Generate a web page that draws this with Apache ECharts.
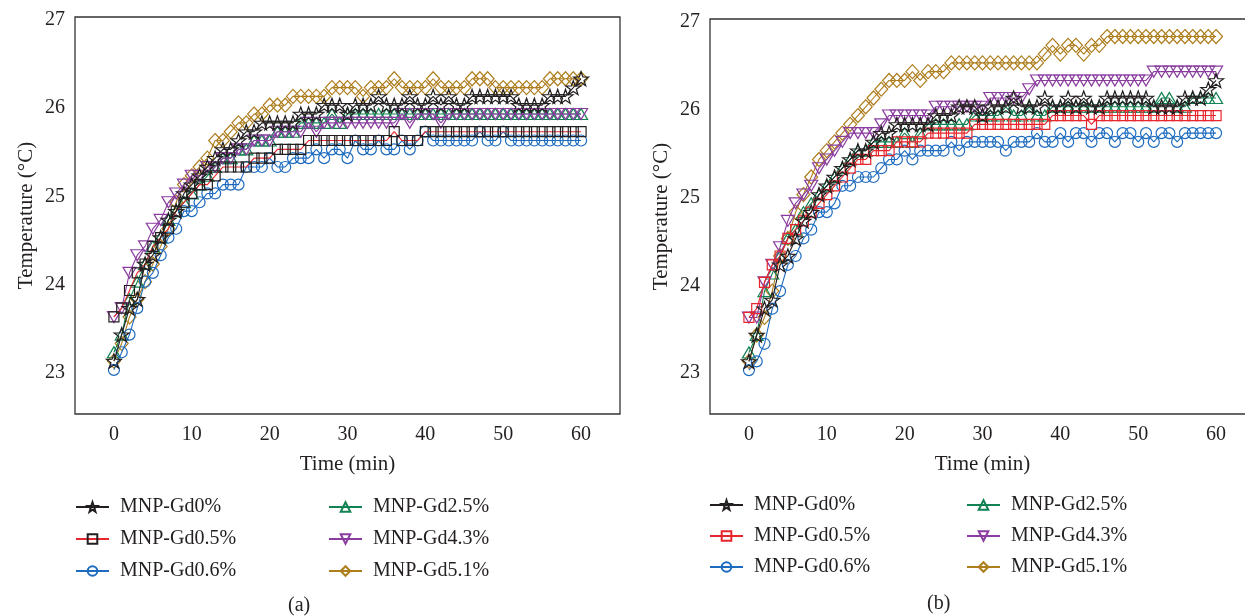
<!DOCTYPE html>
<html>
<head>
<meta charset="utf-8">
<script src="https://cdn.jsdelivr.net/npm/echarts@6/dist/echarts.min.js"></script>
<style>
html,body{margin:0;padding:0;background:#fff;}
#c{width:1245px;height:616px;}
</style>
</head>
<body>
<div id="c"></div>
<script>
// ---------- data ----------
const time = Array.from({length: 61}, (_, i) => i); // minutes 0..60

const seriesNames = ['MNP-Gd0%', 'MNP-Gd0.5%', 'MNP-Gd0.6%', 'MNP-Gd2.5%', 'MNP-Gd4.3%', 'MNP-Gd5.1%'];
const xTickLabels = [0, 10, 20, 30, 40, 50, 60];
const yTickLabels = [23, 24, 25, 26, 27];

// (a)
const a_gd0 = [23.1,23.4,23.7,23.8,24.2,24.3,24.5,24.7,24.8,25.0,25.1,25.2,25.3,25.4,25.5,25.5,25.6,25.7,25.7,25.8,25.8,25.8,25.8,25.8,25.9,25.9,25.9,26.0,26.0,26.0,25.9,26.0,26.0,26.0,26.1,26.0,26.0,26.0,26.1,26.0,26.0,26.1,26.0,26.1,26.0,26.0,26.1,26.1,26.1,26.1,26.1,26.1,26.0,26.0,26.0,26.0,26.1,26.1,26.1,26.2,26.3];
const a_gd05 = [23.6,23.7,23.9,24.1,24.2,24.4,24.5,24.6,24.8,24.9,25.0,25.1,25.1,25.2,25.3,25.3,25.3,25.3,25.4,25.4,25.4,25.5,25.5,25.5,25.5,25.6,25.6,25.6,25.6,25.6,25.6,25.6,25.6,25.6,25.6,25.6,25.7,25.6,25.6,25.6,25.7,25.7,25.7,25.7,25.7,25.7,25.7,25.7,25.7,25.7,25.7,25.7,25.7,25.7,25.7,25.7,25.7,25.7,25.7,25.7,25.7];
const a_gd06 = [23.0,23.2,23.4,23.7,24.0,24.1,24.3,24.5,24.6,24.8,24.8,24.9,25.0,25.0,25.1,25.1,25.1,25.3,25.3,25.3,25.4,25.3,25.3,25.4,25.4,25.4,25.5,25.4,25.5,25.5,25.4,25.6,25.5,25.5,25.6,25.5,25.5,25.6,25.5,25.6,25.7,25.6,25.6,25.6,25.6,25.6,25.6,25.7,25.6,25.6,25.7,25.6,25.6,25.6,25.6,25.6,25.6,25.6,25.6,25.6,25.6];
const a_gd25 = [23.2,23.4,23.8,24.0,24.2,24.4,24.5,24.7,24.8,24.9,25.0,25.1,25.2,25.3,25.4,25.4,25.5,25.5,25.6,25.6,25.6,25.7,25.7,25.7,25.8,25.8,25.8,25.8,25.9,25.8,25.9,25.9,25.9,25.9,25.9,25.9,25.9,25.9,25.9,25.9,25.9,25.9,25.9,25.9,25.9,25.9,25.9,25.9,25.9,25.9,25.9,25.9,25.9,25.9,25.9,25.9,25.9,25.9,25.9,25.9,25.9];
const a_gd43 = [23.6,23.7,24.1,24.3,24.4,24.6,24.7,24.9,25.0,25.1,25.2,25.2,25.3,25.3,25.4,25.4,25.5,25.5,25.6,25.6,25.6,25.7,25.7,25.7,25.7,25.8,25.7,25.8,25.8,25.8,25.8,25.8,25.8,25.8,25.8,25.8,25.8,25.9,25.8,25.9,25.9,25.9,25.8,25.9,25.9,25.9,25.9,25.9,25.9,25.9,25.9,25.9,25.9,25.9,25.9,25.9,25.9,25.9,25.9,25.9,25.9];
const a_gd51 = [23.1,23.3,23.6,23.8,24.0,24.2,24.4,24.6,24.9,25.1,25.2,25.3,25.4,25.6,25.6,25.7,25.8,25.8,25.9,25.9,26.0,26.0,26.0,26.1,26.1,26.1,26.1,26.1,26.2,26.2,26.2,26.2,26.1,26.2,26.2,26.2,26.3,26.2,26.2,26.2,26.2,26.3,26.2,26.2,26.2,26.2,26.3,26.3,26.3,26.2,26.2,26.2,26.2,26.2,26.2,26.2,26.3,26.3,26.3,26.3,26.3];

// (b)
const b_gd0 = [23.1,23.4,23.7,23.8,24.2,24.3,24.5,24.7,24.8,25.0,25.1,25.2,25.3,25.4,25.5,25.5,25.6,25.7,25.7,25.8,25.8,25.8,25.8,25.8,25.9,25.9,25.9,26.0,26.0,26.0,25.9,26.0,26.0,26.0,26.1,26.0,26.0,26.0,26.1,26.0,26.0,26.1,26.0,26.1,26.0,26.0,26.1,26.1,26.1,26.1,26.1,26.1,26.0,26.0,26.0,26.0,26.1,26.1,26.1,26.2,26.3];
const b_gd05 = [23.6,23.7,24.0,24.2,24.3,24.5,24.6,24.7,24.8,24.9,25.0,25.1,25.2,25.3,25.4,25.4,25.5,25.5,25.5,25.6,25.6,25.6,25.6,25.7,25.7,25.7,25.7,25.7,25.7,25.8,25.8,25.8,25.8,25.8,25.8,25.8,25.8,25.8,25.8,25.9,25.9,25.9,25.9,25.9,25.8,25.9,25.9,25.9,25.9,25.9,25.9,25.9,25.9,25.9,25.9,25.9,25.9,25.9,25.9,25.9,25.9];
const b_gd06 = [23.0,23.1,23.3,23.7,23.9,24.2,24.3,24.5,24.6,24.8,24.8,24.9,25.1,25.1,25.2,25.2,25.2,25.3,25.4,25.4,25.5,25.4,25.5,25.5,25.5,25.5,25.6,25.5,25.6,25.6,25.6,25.6,25.6,25.5,25.6,25.6,25.6,25.7,25.6,25.6,25.7,25.6,25.7,25.7,25.6,25.7,25.7,25.6,25.7,25.7,25.6,25.7,25.6,25.7,25.7,25.6,25.7,25.7,25.7,25.7,25.7];
const b_gd25 = [23.2,23.4,23.9,24.1,24.3,24.5,24.6,24.8,24.9,25.0,25.1,25.2,25.3,25.4,25.5,25.5,25.6,25.6,25.6,25.6,25.7,25.6,25.7,25.8,25.8,25.8,25.8,25.8,25.8,25.9,25.9,25.9,25.9,26.0,25.9,25.9,26.0,25.9,25.9,26.0,26.0,26.0,26.0,26.0,26.0,26.0,26.0,26.0,26.0,26.0,26.0,26.0,26.0,26.1,26.1,26.0,26.0,26.1,26.1,26.1,26.1];
const b_gd43 = [23.6,23.6,24.0,24.2,24.4,24.7,24.9,25.0,25.1,25.3,25.4,25.5,25.6,25.7,25.7,25.7,25.7,25.8,25.9,25.9,25.9,25.9,25.9,25.9,26.0,26.0,26.0,26.0,26.0,26.0,26.0,26.1,26.1,26.1,26.1,26.1,26.2,26.3,26.3,26.3,26.3,26.3,26.3,26.3,26.3,26.3,26.3,26.3,26.3,26.3,26.3,26.3,26.4,26.4,26.4,26.4,26.4,26.4,26.4,26.4,26.4];
const b_gd51 = [23.1,23.4,23.6,23.9,24.3,24.5,24.8,25.0,25.2,25.4,25.5,25.6,25.7,25.8,25.9,26.0,26.1,26.2,26.3,26.3,26.3,26.4,26.3,26.4,26.4,26.4,26.5,26.5,26.5,26.5,26.5,26.5,26.5,26.5,26.5,26.5,26.5,26.5,26.6,26.7,26.6,26.7,26.7,26.6,26.7,26.7,26.8,26.8,26.8,26.8,26.8,26.8,26.8,26.8,26.8,26.8,26.8,26.8,26.8,26.8,26.8];

// ---------- styling ----------
const FONT = 'Liberation Serif';
const TXT = '#231f20';
const STAR = 'path://M0,-10 L2.35,-3.24 L9.51,-3.09 L3.8,1.24 L5.88,8.09 L0,4 L-5.88,8.09 L-3.8,1.24 L-9.51,-3.09 L-2.35,-3.24 Z';
const DOWN_TRI = 'path://M-10,-8.66 L10,-8.66 L0,8.66 Z';
const UP_TRI = 'path://M-10,8.66 L10,8.66 L0,-8.66 Z';

function mk(prefix, gi, name, data, symbol, size, lineColor, markColor, z) {
  return {
    type: 'line',
    name: prefix + name,
    xAxisIndex: gi, yAxisIndex: gi,
    data: time.map((t, i) => [t, data[i]]),
    symbol: symbol,
    symbolSize: size,
    showAllSymbol: true,
    z: z,
    lineStyle: {color: lineColor, width: 1.1},
    itemStyle: {color: 'rgba(255,255,255,0)', borderColor: markColor, borderWidth: 1.2},
    emphasis: {disabled: true}
  };
}

const C = {
  black: '#231f20', red: '#e8262d', blue: '#1d6bbf', green: '#138253', purple: '#8a3d9f', gold: '#ae7d1c'
};

function chartSeries(prefix, gi, d, squareMark) {
  return [
    mk(prefix, gi, seriesNames[5], d[5], 'diamond', [13, 14], C.gold, C.gold, 2),
    mk(prefix, gi, seriesNames[3], d[3], UP_TRI, [13, 11], C.green, C.green, 3),
    mk(prefix, gi, seriesNames[4], d[4], DOWN_TRI, [13, 11], C.purple, C.purple, 4),
    mk(prefix, gi, seriesNames[2], d[2], 'circle', 11, C.blue, C.blue, 5),
    mk(prefix, gi, seriesNames[1], d[1], 'rect', 10, C.red, squareMark, 6),
    mk(prefix, gi, seriesNames[0], d[0], STAR, [15, 14], C.black, C.black, 7)
  ];
}

function xAxis(gi) {
  return {
    type: 'value', gridIndex: gi, min: -5, max: 65, interval: 5,
    axisLine: {show: false}, axisTick: {show: false}, splitLine: {show: false},
    axisLabel: {
      fontFamily: FONT, fontSize: 20, color: TXT, margin: 11,
      formatter: v => xTickLabels.indexOf(Math.round(v)) >= 0 && Math.abs(v - Math.round(v)) < 1e-6 ? String(Math.round(v)) : ''
    },
    name: 'Time (min)', nameLocation: 'middle', nameGap: 40,
    nameTextStyle: {fontFamily: FONT, fontSize: 21, color: TXT}
  };
}
function yAxis(gi) {
  return {
    type: 'value', gridIndex: gi, min: 22.5, max: 27, interval: 0.5,
    axisLine: {show: false}, axisTick: {show: false}, splitLine: {show: false},
    axisLabel: {
      fontFamily: FONT, fontSize: 20, color: TXT, margin: 10, verticalAlign: 'top', lineHeight: 6,
      formatter: v => yTickLabels.indexOf(Math.round(v)) >= 0 && Math.abs(v - Math.round(v)) < 1e-6 ? String(Math.round(v)) : ''
    },
    name: 'Temperature (°C)', nameLocation: 'middle', nameGap: 38,
    nameTextStyle: {fontFamily: FONT, fontSize: 21, color: TXT}
  };
}

function legend(prefix, names, left, top, gap) {
  return {
    data: names.map(n => prefix + n),
    formatter: n => n.slice(prefix.length),
    orient: 'vertical', left: left, top: top, padding: 0,
    itemWidth: 33, itemHeight: 12, itemGap: gap,
    selectedMode: false,
    textStyle: {fontFamily: FONT, fontSize: 20, color: TXT, lineHeight: 20, padding: [0, 0, 0, 6]}
  };
}

const option = {
  animation: false,
  backgroundColor: '#fff',
  grid: [
    {left: 75, top: 17, width: 545, height: 397, outerBoundsMode: 'none', containLabel: false, show: true, borderColor: '#333', borderWidth: 1.3, backgroundColor: 'transparent'},
    {left: 710, top: 19, width: 545, height: 395, outerBoundsMode: 'none', containLabel: false, show: true, borderColor: '#333', borderWidth: 1.3, backgroundColor: 'transparent'}
  ],
  xAxis: [xAxis(0), xAxis(1)],
  yAxis: [yAxis(0), yAxis(1)],
  legend: [
    legend('a:', seriesNames.slice(0, 3), 75, 497, 12),
    legend('a:', seriesNames.slice(3, 6), 328, 497, 12),
    legend('b:', seriesNames.slice(0, 3), 709, 495, 11),
    legend('b:', seriesNames.slice(3, 6), 966, 495, 11)
  ],
  graphic: [
    {type: 'text', left: 288, top: 596, style: {text: '(a)', font: '20px "Liberation Serif"', fill: TXT}},
    {type: 'text', left: 927, top: 594, style: {text: '(b)', font: '20px "Liberation Serif"', fill: TXT}}
  ],
  series: [].concat(
    chartSeries('a:', 0, [a_gd0, a_gd05, a_gd06, a_gd25, a_gd43, a_gd51], C.black),
    chartSeries('b:', 1, [b_gd0, b_gd05, b_gd06, b_gd25, b_gd43, b_gd51], C.red)
  )
};

const chart = echarts.init(document.getElementById('c'), null, {renderer: 'canvas'});
chart.setOption(option);
</script>
</body>
</html>
